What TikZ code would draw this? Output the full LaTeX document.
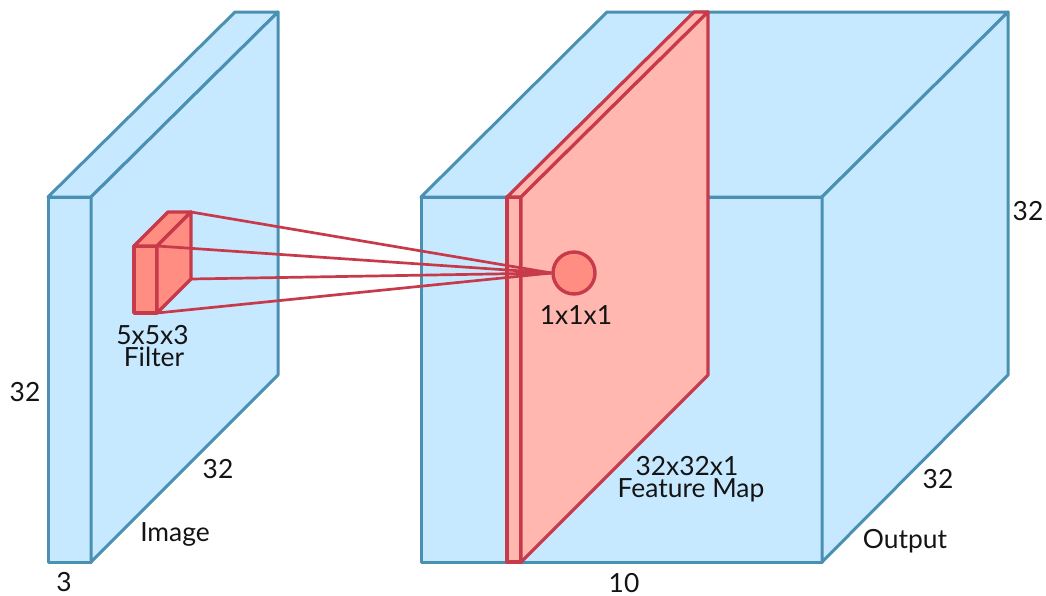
\documentclass[tikz,border=0pt]{standalone}
\usepackage{fontspec}
\setmainfont{Lato}
\usepackage{xcolor}
\usetikzlibrary{calc}
\definecolor{boxfill}{HTML}{C7E9FF}
\definecolor{boxline}{HTML}{4A90B2}
\definecolor{mapline}{HTML}{C73A4A}
\definecolor{mapfill}{HTML}{FFB7B0}
\definecolor{filterfill}{HTML}{FF8D82}
\begin{document}
\begin{tikzpicture}[
    x=1pt, y=-1pt,
    box/.style={draw=boxline, fill=boxfill, line width=3pt, line join=round},
    map/.style={draw=mapline, fill=mapfill, line width=3.2pt, line join=round},
    filter/.style={draw=mapline, fill=filterfill, line width=3.4pt, line join=round},
    ray/.style={draw=mapline, line width=2.7pt},
    lbl/.style={font=\fontsize{26.4}{23.5}\selectfont, text=black!92, inner sep=0pt}]
\useasboundingbox (0,0) rectangle (1046,595);
% image block
\draw[box] (48,197) rectangle (91,562);
\draw[box] (48,197) -- (235,12) -- (278,12) -- (91,197) -- cycle;
\draw[box] (91,197) -- (278,12) -- (278,375) -- (91,562) -- cycle;
% output block
\draw[box] (421,197) rectangle (822,562);
\draw[box] (421,197) -- (607,12) -- (1008,12) -- (822,197) -- cycle;
\draw[box] (822,197) -- (1008,12) -- (1008,375) -- (822,562) -- cycle;
% feature map
\draw[map] (507,197) rectangle (521,562);
\draw[map] (507,197) -- (694,12) -- (708,12) -- (521,197) -- cycle;
\draw[map] (521,197) -- (708,12) -- (708,375) -- (521,562) -- cycle;
% filter
\coordinate (fa) at (157,246);
\coordinate (fb) at (191,212);
\coordinate (fc) at (191,279);
\coordinate (fd) at (157,313);
\draw[filter] (134,246) rectangle (fd);
\draw[filter] (134,246) -- (168,212) -- (fb) -- (fa) -- cycle;
\draw[filter] (fa) -- (fb) -- (fc) -- (fd) -- cycle;
\node[circle, filter, minimum size=42pt, inner sep=0pt] (unit) at (574,273) {};
\draw[ray] (fb) -- (unit.west);
\draw[ray] (fa) -- (unit.west);
\draw[ray] (fc) -- (unit.west);
\draw[ray] (fd) -- (unit.west);
% labels
\node[lbl] (imgh) at (25,392) {32};
\node[lbl] (imgd) at (64,582) {3};
\node[lbl] (imgw) at (218,469) {32};
\node[lbl] (imgname) at (175,534) {Image};
\node[lbl] (filtersize) at (152.5,335) {5x5x3};
\node[lbl] (filtername) at (154,357) {Filter};
\node[lbl] (unitname) at (576,315) {1x1x1};
\node[lbl] (mapsize) at (687,466) {32x32x1};
\node[lbl] (mapname) at (691,490) {Feature Map};
\node[lbl] (outd) at (624,583) {10};
\node[lbl] (outw) at (938,479) {32};
\node[lbl] (outname) at (905,541) {Output};
\node[lbl] (outh) at (1028,211) {32};
\end{tikzpicture}
\end{document}
